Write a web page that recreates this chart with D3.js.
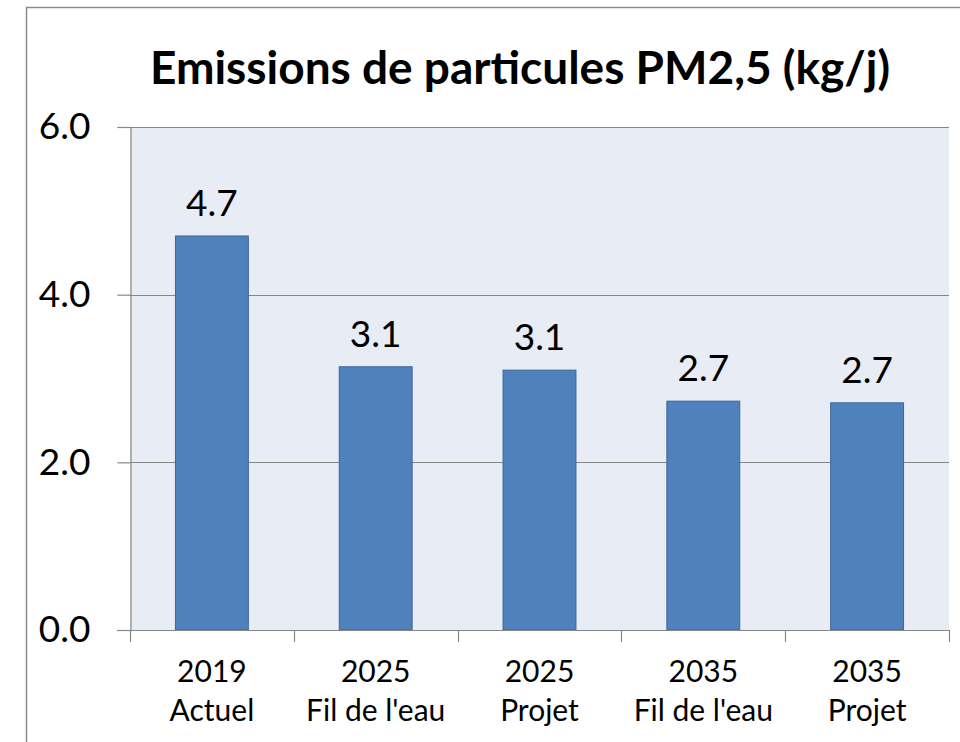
<!DOCTYPE html>
<html>
<head>
<meta charset="utf-8">
<script src="https://cdn.jsdelivr.net/npm/d3@7"></script>
<style>
  html, body { margin: 0; padding: 0; background: #ffffff; }
  svg { display: block; }
  text { font-family: Lato, "Open Sans", "DejaVu Sans", sans-serif; fill: #000; }
</style>
</head>
<body>
<svg id="chart" width="960" height="742"></svg>
<script>
const title = "Emissions de particules PM2,5 (kg/j)";
const years = ["2019", "2025", "2025", "2035", "2035"];
const scenarios = ["Actuel", "Fil de l'eau", "Projet", "Fil de l'eau", "Projet"];
const values = [4.7, 3.14, 3.10, 2.73, 2.71];
const yTicks = [0, 2, 4, 6];

const svg = d3.select("#chart");
const plot = { left: 130, right: 949, top: 127, bottom: 630 };
const ids = years.map((d, i) => i);

// outer chart border
svg.append("rect")
  .attr("x", 26.5).attr("y", 7.5)
  .attr("width", 1000).attr("height", 800)
  .attr("fill", "#fff").attr("stroke", "#8c8c8c").attr("stroke-width", 1.5);

const x = d3.scaleBand().domain(ids).range([plot.left, plot.right])
  .paddingInner(0.555).paddingOuter(0.2775);
const y = d3.scaleLinear().domain([0, 6]).range([plot.bottom, plot.top]);

// plot background
svg.append("rect")
  .attr("x", plot.left).attr("y", plot.top)
  .attr("width", plot.right - plot.left).attr("height", plot.bottom - plot.top)
  .attr("fill", "#e8ecf4");

// gridlines
svg.append("g").selectAll("line").data(yTicks.filter(d => d > 0)).join("line")
  .attr("x1", plot.left).attr("x2", plot.right)
  .attr("y1", d => Math.round(y(d)) + 0.5).attr("y2", d => Math.round(y(d)) + 0.5)
  .attr("stroke", "#868686").attr("stroke-width", 1.2);

// bars
svg.append("g").selectAll("rect").data(values).join("rect")
  .attr("x", (d, i) => x(i))
  .attr("y", d => y(d))
  .attr("width", x.bandwidth())
  .attr("height", d => y(0) - y(d))
  .attr("fill", "#4f81bd")
  .attr("stroke", "#3d6797").attr("stroke-width", 1);

// value labels
svg.append("g").selectAll("text").data(values).join("text")
  .attr("x", (d, i) => x(i) + x.bandwidth() / 2)
  .attr("y", d => y(d) - 20)
  .attr("text-anchor", "middle")
  .attr("font-size", 37)
  .text(d => d3.format(".1f")(d));

// y axis
const yAxis = d3.axisLeft(y).tickValues(yTicks).tickFormat(d3.format(".1f"))
  .tickSize(13).tickPadding(27);
const gy = svg.append("g").attr("transform", `translate(${plot.left + 0.5},0)`).call(yAxis);
gy.select(".domain").attr("stroke", "#868686").attr("stroke-width", 1.2);
gy.selectAll(".tick line").attr("stroke", "#868686").attr("stroke-width", 1.2);
gy.selectAll(".tick text").attr("font-size", 37).attr("font-family", "Lato, sans-serif").attr("fill", "#000");

// x axis line and boundary ticks
const gx = svg.append("g");
gx.append("line")
  .attr("x1", plot.left - 13).attr("x2", plot.right)
  .attr("y1", y(0) + 0.5).attr("y2", y(0) + 0.5)
  .attr("stroke", "#868686").attr("stroke-width", 1.2);
const bounds = ids.map(i => x(i) - x.step() * x.paddingInner() / 2).concat([plot.right]);
gx.selectAll("line.tk").data(bounds).join("line").attr("class", "tk")
  .attr("x1", d => Math.round(d) + 0.5).attr("x2", d => Math.round(d) + 0.5)
  .attr("y1", y(0)).attr("y2", y(0) + 12)
  .attr("stroke", "#868686").attr("stroke-width", 1.2);

// x labels
const xl = svg.append("g").selectAll("text").data(ids).join("text")
  .attr("text-anchor", "middle")
  .attr("font-size", 30);
xl.append("tspan").attr("x", i => x(i) + x.bandwidth() / 2).attr("y", 682).text(i => years[i]);
xl.append("tspan").attr("x", i => x(i) + x.bandwidth() / 2).attr("y", 721).text(i => scenarios[i]);

// title
svg.append("text")
  .attr("x", 520).attr("y", 84)
  .attr("text-anchor", "middle")
  .attr("font-size", 46).attr("font-weight", "bold")
  .text(title);
</script>
</body>
</html>
